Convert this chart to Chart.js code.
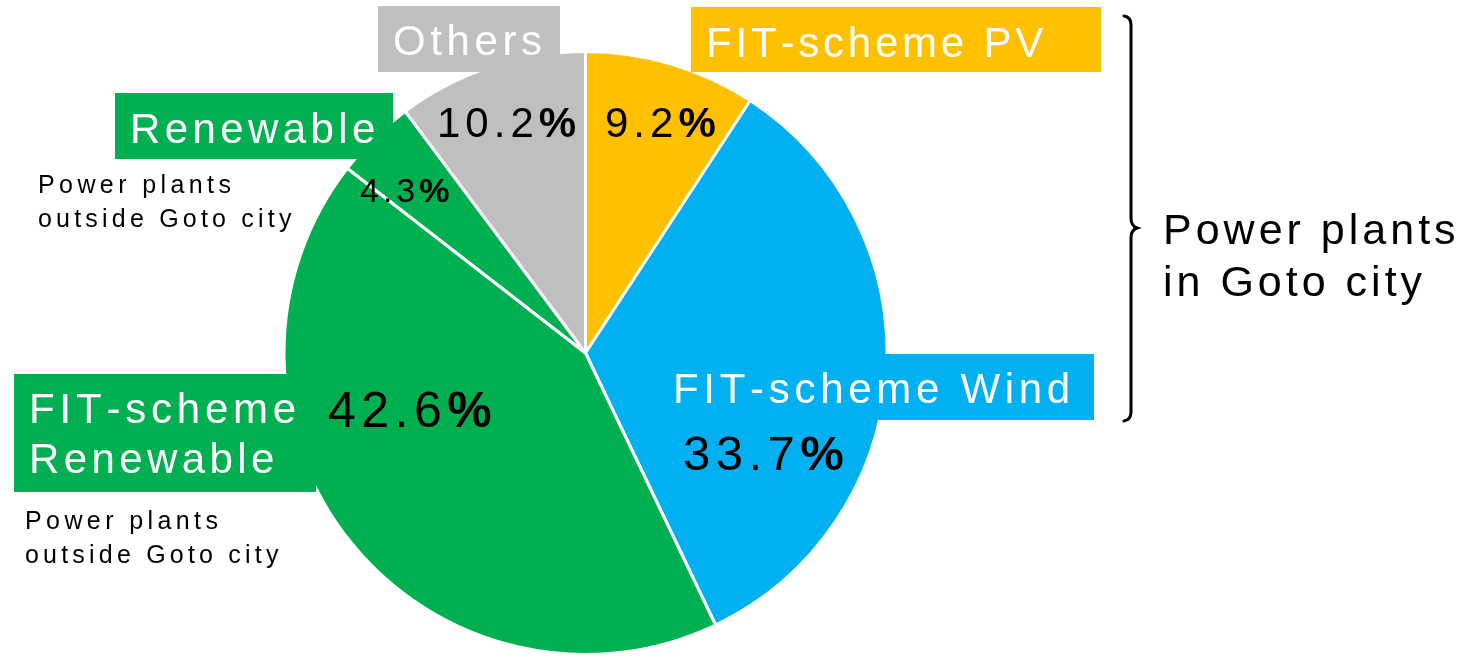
<!DOCTYPE html>
<html>
<head>
<meta charset="utf-8">
<script src="https://cdn.jsdelivr.net/npm/chart.js@4"></script>
<style>
  html, body { margin: 0; padding: 0; background: #fff; }
  canvas { display: block; }
</style>
</head>
<body>
<canvas id="power_chart" width="1463" height="656"></canvas>
<script>
// slices, clockwise from 12 o'clock
const categories = ['FIT-scheme PV', 'FIT-scheme Wind', 'FIT-scheme Renewable', 'Renewable', 'Others'];
const shares = [9.2, 33.7, 42.6, 4.3, 10.2];
const sliceColors = ['#FFC000', '#00B0F0', '#00B050', '#00B050', '#BFBFBF'];
const subNote = ['Power plants', 'outside Goto city'];
const groupNote = ['Power plants', 'in Goto city'];

const FONT = '"Liberation Sans", Arial, sans-serif';

// draw text one letter at a time so we get the wide tracking of the original
function spaced(ctx, text, x, y, gap) {
    let cx = x;
    for (const ch of text) {
        ctx.fillText(ch, cx, y);
        cx += ctx.measureText(ch).width + gap;
    }
    return cx;
}

function pct(ctx, value, x, y, size, gap) {
    ctx.fillStyle = '#000';
    ctx.font = size + 'px ' + FONT;
    const end = spaced(ctx, value.toFixed(1), x, y, gap);
    ctx.font = 'bold ' + size + 'px ' + FONT;
    ctx.fillText('%', end, y);
}

function box(ctx, color, x, y, w, h) {
    ctx.fillStyle = color;
    ctx.fillRect(x, y, w, h);
}

const labelsPlugin = {
    id: 'labels',
    afterDatasetsDraw(chart) {
        const ctx = chart.ctx;
        ctx.save();
        ctx.textBaseline = 'alphabetic';
        ctx.textAlign = 'left';

        // coloured name boxes
        box(ctx, sliceColors[0], 691, 7, 410, 65);
        box(ctx, sliceColors[4], 378, 6, 182, 66);
        box(ctx, sliceColors[3], 115, 93, 278, 66);
        box(ctx, sliceColors[2], 14, 374, 302, 118);
        box(ctx, sliceColors[1], 660, 354, 434, 66);

        ctx.fillStyle = '#fff';
        ctx.font = '42px ' + FONT;
        spaced(ctx, categories[0], 706, 57, 3.8);
        spaced(ctx, categories[4], 393, 55, 4.6);
        spaced(ctx, categories[3], 130, 143, 4.4);
        spaced(ctx, 'FIT-scheme', 29, 423, 4.8);
        spaced(ctx, 'Renewable', 29, 473, 4.4);
        spaced(ctx, categories[1], 673, 403, 4.7);

        // percentages
        pct(ctx, shares[4], 437, 137, 42, 5);
        pct(ctx, shares[0], 605, 137, 42, 5);
        pct(ctx, shares[3], 360, 202, 34, 4);
        pct(ctx, shares[2], 328, 427, 50, 5.5);
        pct(ctx, shares[1], 683, 470, 49, 5.5);

        // notes
        ctx.fillStyle = '#000';
        ctx.font = '25px ' + FONT;
        spaced(ctx, subNote[0], 38, 193, 4.4);
        spaced(ctx, subNote[1], 38, 227, 4.2);
        spaced(ctx, subNote[0], 25, 529, 4.4);
        spaced(ctx, subNote[1], 25, 563, 4.2);

        ctx.font = '43px ' + FONT;
        spaced(ctx, groupNote[0], 1163, 244, 4);
        spaced(ctx, groupNote[1], 1163, 296, 4);

        // brace
        ctx.strokeStyle = '#000';
        ctx.lineWidth = 3;
        ctx.lineCap = 'round';
        ctx.beginPath();
        ctx.moveTo(1124, 16);
        ctx.quadraticCurveTo(1131, 17, 1131, 25);
        ctx.lineTo(1131, 218);
        ctx.quadraticCurveTo(1131, 226, 1137, 228);
        ctx.quadraticCurveTo(1131, 230, 1131, 238);
        ctx.lineTo(1131, 412);
        ctx.quadraticCurveTo(1131, 420, 1124, 421);
        ctx.stroke();

        ctx.restore();
    }
};

const ctx = document.getElementById('power_chart').getContext('2d');
const myChart = new Chart(ctx, {
    type: 'pie',
    data: {
        labels: categories,
        datasets: [{
            data: shares,
            backgroundColor: sliceColors,
            borderColor: '#fff',
            borderWidth: 3
        }]
    },
    options: {
        responsive: false,
        animation: false,
        layout: {
            padding: { left: 282, right: 574, top: 50, bottom: 0 }
        },
        plugins: {
            legend: { display: false },
            tooltip: { enabled: false }
        }
    },
    plugins: [labelsPlugin]
});
</script>
</body>
</html>
